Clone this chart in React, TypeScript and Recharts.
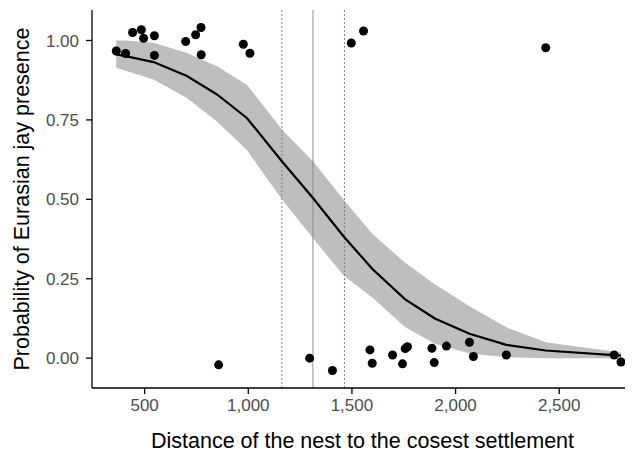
import React from "react";
import {
  ComposedChart,
  Area,
  Line,
  Scatter,
  XAxis,
  YAxis,
  ReferenceLine,
} from "recharts";

// observed nests: distance (m) and jittered presence (0/1)
const nestDist = [
  363, 408, 442, 484, 495, 547, 547, 698, 746, 772, 773, 976, 1008, 1497, 1556, 2435,
  857, 1296, 1406, 1587, 1598, 1696, 1744, 1757, 1768, 1886, 1897, 1956, 2067, 2086, 2245, 2765, 2798,
];
const nestPresence = [
  0.967, 0.959, 1.025, 1.034, 1.007, 1.015, 0.953, 0.997, 1.018, 1.041, 0.955, 0.988, 0.96, 0.992, 1.03, 0.977,
  -0.021, 0.0, -0.039, 0.026, -0.016, 0.01, -0.018, 0.03, 0.036, 0.031, -0.014, 0.038, 0.05, 0.005, 0.01, 0.01, -0.012,
];

// fitted logistic curve + confidence band
const fitDist = [363, 408, 543, 704, 849, 993, 1162, 1312, 1460, 1600, 1757, 1900, 2067, 2245, 2435, 2798];
const fitProb = [0.956, 0.951, 0.932, 0.888, 0.83, 0.756, 0.62, 0.504, 0.383, 0.28, 0.185, 0.125, 0.077, 0.042, 0.024, 0.008];
const fitUpper = [1.0, 1.0, 0.993, 0.961, 0.919, 0.861, 0.72, 0.62, 0.499, 0.39, 0.3, 0.233, 0.163, 0.097, 0.05, 0.018];
const fitLower = [0.914, 0.905, 0.877, 0.819, 0.745, 0.655, 0.5, 0.378, 0.26, 0.19, 0.097, 0.045, 0.015, 0.003, 0.0, 0.0];

// threshold distance and its interval
const threshold = 1312;
const thresholdCI = [1162, 1464];

const xTicks = [500, 1000, 1500, 2000, 2500];
const yTicks = [0, 0.25, 0.5, 0.75, 1];

const fitData = fitDist.map((x, i) => ({
  x,
  fit: fitProb[i],
  band: [fitLower[i], fitUpper[i]],
}));
const points = nestDist.map((x, i) => ({ x, y: nestPresence[i] }));

const font = "'Liberation Sans', Arial, sans-serif";

export default function App() {
  return (
    <ComposedChart
      width={625}
      height={448}
      data={fitData}
      margin={{ top: 2, right: 0, bottom: 0, left: 0 }}
      style={{ fontFamily: font }}
    >
      <XAxis
        dataKey="x"
        type="number"
        domain={[246, 2856]}
        ticks={xTicks}
        allowDataOverflow
        tickFormatter={(v) => v.toLocaleString("en-US")}
        height={68}
        stroke="#000"
        strokeWidth={1.3}
        tickSize={6}
        tickMargin={5}
        tick={{ fill: "#4d4d4d", fontSize: 17 }}
        label={{
          value: "Distance of the nest to the cosest settlement",
          position: "insideBottom",
          offset: 8,
          fill: "#000",
          fontSize: 21.5,
        }}
      />
      <YAxis
        type="number"
        domain={[-0.094, 1.096]}
        ticks={yTicks}
        allowDataOverflow
        tickFormatter={(v) => v.toFixed(2)}
        width={84}
        stroke="#000"
        strokeWidth={1.3}
        tickSize={6}
        tickMargin={7}
        tick={{ fill: "#4d4d4d", fontSize: 17 }}
        label={{
          value: "Probability of Eurasian jay presence",
          angle: -90,
          position: "insideLeft",
          offset: 13,
          style: { textAnchor: "middle" },
          fill: "#000",
          fontSize: 21.5,
        }}
      />
      <Area
        dataKey="band"
        stroke="none"
        fill="#bebebe"
        fillOpacity={1}
        isAnimationActive={false}
        activeDot={false}
      />
      <ReferenceLine x={thresholdCI[0]} stroke="#7f7f7f" strokeDasharray="2 2" />
      <ReferenceLine x={threshold} stroke="#8c8c8c" />
      <ReferenceLine x={thresholdCI[1]} stroke="#7f7f7f" strokeDasharray="2 2" />
      <Line
        dataKey="fit"
        stroke="#000"
        strokeWidth={2.2}
        dot={false}
        type="linear"
        isAnimationActive={false}
      />
      <Scatter
        data={points}
        dataKey="y"
        fill="#000"
        shape={(p: any) => <circle cx={p.cx} cy={p.cy} r={4.5} fill="#000" />}
        isAnimationActive={false}
      />
    </ComposedChart>
  );
}
